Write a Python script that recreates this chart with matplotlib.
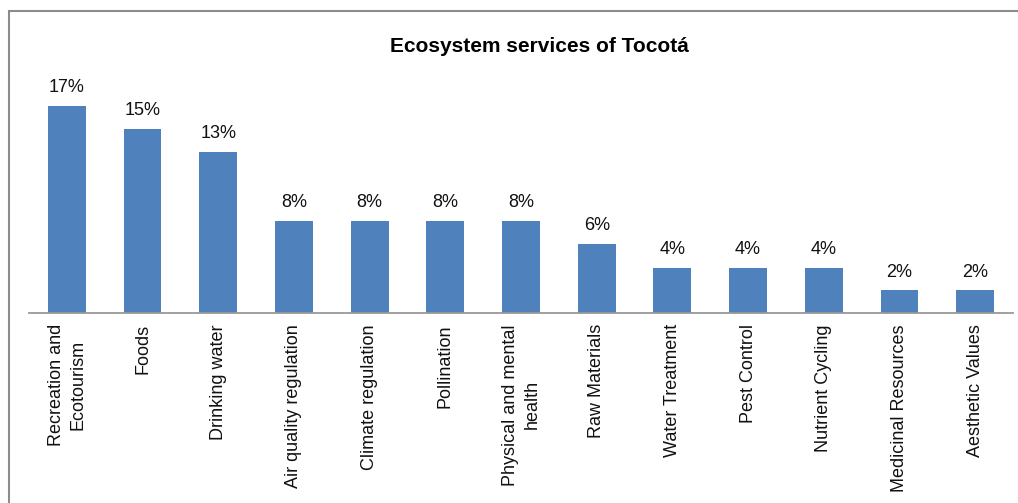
import matplotlib
matplotlib.use("Agg")
import matplotlib.pyplot as plt
from matplotlib.patches import Rectangle

plt.rcParams["font.family"] = ["Liberation Sans", "DejaVu Sans"]

SERVICES = ["Recreation and\nEcotourism", "Foods", "Drinking water",
            "Air quality regulation", "Climate regulation", "Pollination",
            "Physical and mental\nhealth", "Raw Materials", "Water Treatment",
            "Pest Control", "Nutrient Cycling", "Medicinal Resources",
            "Aesthetic Values"]
# shares in percent (mentions / 52)
SHARES = [17.3, 15.4, 13.5, 7.7, 7.7, 7.7, 7.7, 5.8, 3.8, 3.8, 3.8, 1.9, 1.9]
LABELS = ["17%", "15%", "13%", "8%", "8%", "8%", "8%", "6%",
          "4%", "4%", "4%", "2%", "2%"]

W, H = 1018, 503
fig = plt.figure(figsize=(W / 100, H / 100), dpi=100)
ax = fig.add_axes([29 / W, 1 - 313 / H, (1013 - 29) / W, (313 - 60) / H])

x = range(len(SERVICES))
bars = ax.bar(x, SHARES, width=0.5, color="#4F81BD")
ax.bar_label(bars, labels=LABELS, padding=7, fontsize=13, color="#111111")

ax.set_xlim(-0.5, len(SERVICES) - 0.5)
ax.set_ylim(0, 253 / 11.96)
ax.set_xticks(list(x))
ax.set_xticklabels(SERVICES, rotation=90, ha="center", va="top",
                   multialignment="center", linespacing=1.35,
                   fontsize=13, color="#111111")
ax.tick_params(axis="x", length=0, pad=8)
ax.set_yticks([])
for side in ["top", "right", "left"]:
    ax.spines[side].set_visible(False)
ax.spines["bottom"].set_color("#989898")
ax.spines["bottom"].set_linewidth(1.3)

fig.text(539 / W, 1 - 47 / H, "Ecosystem services of Tocotá", ha="center",
         va="center", fontsize=15, fontweight="bold")

# chart frame, cut off at the right and bottom like the source
fig.patches.append(Rectangle((9 / W, -0.1), 1.2, 1.1 - 11 / H, fill=False,
                             edgecolor="#8c8c8c", linewidth=1.5,
                             transform=fig.transFigure, figure=fig))

fig.savefig("out.png", dpi=100)
